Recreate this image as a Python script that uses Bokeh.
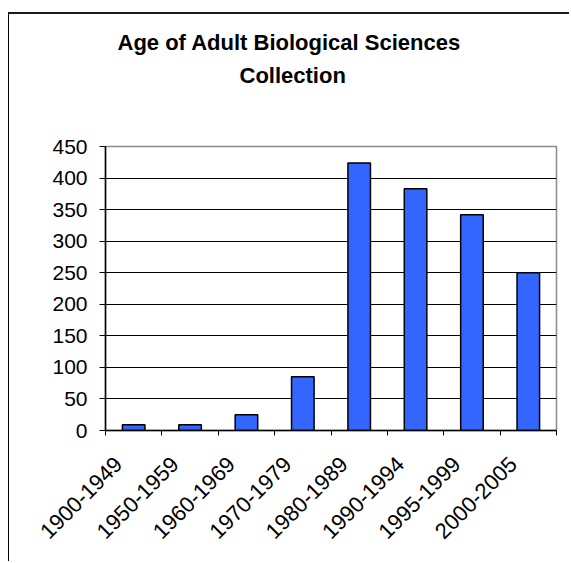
from math import pi
from bokeh.plotting import figure
from bokeh.models import FixedTicker, Range1d, ColumnDataSource, Title
from bokeh.embed import file_html
from bokeh.resources import INLINE

# ---- data ----
categories = ["1900-1949", "1950-1959", "1960-1969", "1970-1979",
              "1980-1989", "1990-1994", "1995-1999", "2000-2005"]
counts = [9, 9, 25, 85, 424, 383, 342, 250]
y_ticks = [0, 50, 100, 150, 200, 250, 300, 350, 400, 450]
title_lines = ["Age of Adult Biological Sciences", "Collection"]

FONT = "Liberation Sans"

positions = [i + 0.5 for i in range(len(categories))]
boundaries = list(range(len(categories) + 1))
label_shift = 0.27  # leftward nudge of the slanted labels
label_pos = [x - label_shift for x in positions]
source = ColumnDataSource(dict(x=positions, top=counts, cat=categories))

p = figure(width=561, height=549,
           x_range=Range1d(0, len(categories)), y_range=Range1d(0, 450),
           output_backend="svg", toolbar_location=None,
           min_border_left=96, min_border_right=14,
           min_border_top=132, min_border_bottom=133)
p.styles = {"border-top": "2px solid #1a1a1a", "border-left": "1.5px solid #000000",
            "margin-top": "12px", "margin-left": "8px"}
p.background_fill_color = "white"
p.border_fill_color = "white"
p.outline_line_color = "#8c8c8c"
p.outline_line_width = 1.5

p.vbar(x="x", top="top", width=0.4, source=source,
       fill_color="#3366FF", line_color="black", line_width=1.5)

# x axis
p.xaxis.ticker = FixedTicker(ticks=label_pos, minor_ticks=boundaries)
p.xaxis.major_label_overrides = {pos: c for pos, c in zip(label_pos, categories)}
p.xaxis.major_tick_in = 0
p.xaxis.major_tick_out = 0
p.xaxis.minor_tick_in = 0
p.xaxis.minor_tick_out = 5
p.xaxis.minor_tick_line_color = "black"
p.xaxis.axis_line_color = "black"
p.xaxis.axis_line_width = 1.5
p.xaxis.major_label_orientation = pi / 4
p.xaxis.major_label_text_font = FONT
p.xaxis.major_label_text_font_size = "22px"
p.xaxis.major_label_text_color = "black"
p.xaxis.major_label_standoff = 25

# y axis
p.yaxis.ticker = FixedTicker(ticks=y_ticks)
p.yaxis.major_tick_in = 0
p.yaxis.major_tick_out = 6
p.yaxis.minor_tick_line_color = None
p.yaxis.axis_line_color = "black"
p.yaxis.axis_line_width = 1.5
p.yaxis.major_label_text_font = FONT
p.yaxis.major_label_text_font_size = "21px"
p.yaxis.major_label_text_color = "black"
p.yaxis.major_label_standoff = 12

p.xgrid.visible = False
p.ygrid.ticker = FixedTicker(ticks=y_ticks[1:-1])
p.ygrid.grid_line_color = "black"
p.ygrid.grid_line_width = 1

# spacer between the frame and the title block
p.add_layout(Title(text=" ", standoff=43, text_font=FONT, text_font_size="10px"), "above")
# title: two lines, later-added titles sit farther from the frame
p.add_layout(Title(text=title_lines[1], align="left", offset=134, standoff=6,
                   text_font=FONT, text_font_size="22px", text_font_style="bold",
                   text_color="black"), "above")
p.add_layout(Title(text=title_lines[0], align="left", offset=12, standoff=6,
                   text_font=FONT, text_font_size="22px", text_font_style="bold",
                   text_color="black"), "above")

open("out.html", "w").write(file_html(p, INLINE))
